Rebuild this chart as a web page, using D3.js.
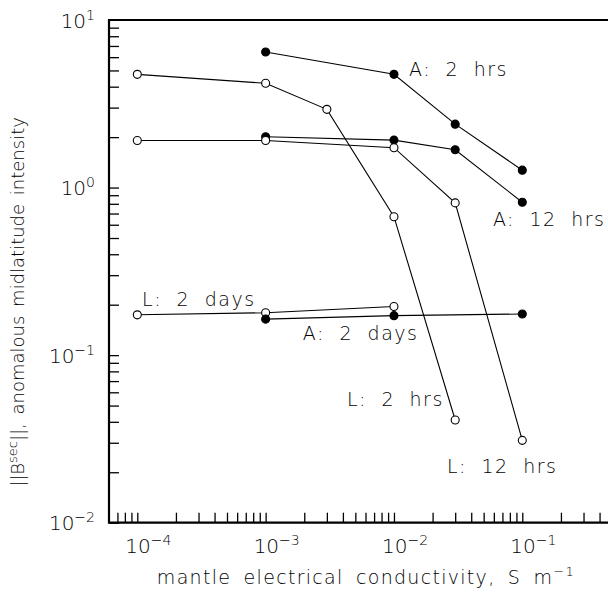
<!DOCTYPE html>
<html>
<head>
<meta charset="utf-8">
<script src="https://cdn.jsdelivr.net/npm/d3@7"></script>
<style>
  body { margin: 0; background: #fff; }
  text { font-family: "DejaVu Sans", sans-serif; font-weight: 200; fill: #000; }
</style>
</head>
<body>
<svg id="chart" width="608" height="593"></svg>
<script>
// conductivity values (S/m) and field intensities
var a2hrsX = [1e-3, 1e-2, 3e-2, 1e-1];
var a2hrsY = [6.44, 4.74, 2.39, 1.27];

var a12hrsX = [1e-3, 1e-2, 3e-2, 1e-1];
var a12hrsY = [2.01, 1.92, 1.68, 0.817];

var l2hrsX = [1e-4, 1e-3, 3e-3, 1e-2, 3e-2];
var l2hrsY = [4.74, 4.19, 2.93, 0.67, 0.041];

var l12hrsX = [1e-4, 1e-3, 1e-2, 3e-2, 1e-1];
var l12hrsY = [1.91, 1.91, 1.73, 0.81, 0.031];

var l2daysX = [1e-4, 1e-3, 1e-2];
var l2daysY = [0.174, 0.179, 0.195];

var a2daysX = [1e-3, 1e-2, 1e-1];
var a2daysY = [0.164, 0.172, 0.176];

var seriesNames = ["A: 2 hrs", "A: 12 hrs", "L: 2 hrs", "L: 12 hrs", "L: 2 days", "A: 2 days"];
var seriesFilled = [true, true, false, false, false, true];

var xTickExp = [-4, -3, -2, -1];
var yTickExp = [-2, -1, 0, 1];

var series = [
    { x: a2hrsX, y: a2hrsY },
    { x: a12hrsX, y: a12hrsY },
    { x: l2hrsX, y: l2hrsY },
    { x: l12hrsX, y: l12hrsY },
    { x: l2daysX, y: l2daysY },
    { x: a2daysX, y: a2daysY }
];

// label anchor positions in data units (left edge, middle of text)
var labelPos = [
    [1.31e-2, 5.10],
    [5.9e-2, 0.649],
    [4.3e-3, 0.0547],
    [2.59e-2, 0.0218],
    [1.09e-4, 0.216],
    [1.95e-3, 0.1355]
];

var svg = d3.select("#chart");

var plotL = 109, plotR = 608, plotT = 20, plotB = 522.7;

var x = d3.scaleLog().domain([1e-4, 1e-1]).range([137.3, 522.3]);
var y = d3.scaleLog().domain([1e-2, 1e1]).range([plotB, plotT]);

// minor + major tick positions inside the visible range
var xTicks = [];
for (var d = -5; d <= 0; d++) {
    for (var k = 1; k <= 9; k++) {
        var v = k * Math.pow(10, d);
        if (x(v) > plotL + 3 && x(v) <= plotR) xTicks.push(v);
    }
}
var yTicks = [];
for (var d = -2; d <= 0; d++) {
    for (var k = 1; k <= 9; k++) yTicks.push(k * Math.pow(10, d));
}

svg.append("g")
    .attr("transform", "translate(0," + plotB + ")")
    .call(d3.axisBottom(x).tickValues(xTicks).tickSize(-10).tickFormat(""))
    .call(function(g) { g.select(".domain").remove(); })
    .selectAll("line").attr("stroke", "#000").attr("stroke-width", 1.3);

svg.append("g")
    .attr("transform", "translate(" + plotL + ",0)")
    .call(d3.axisLeft(y).tickValues(yTicks).tickSize(-10).tickFormat(""))
    .call(function(g) { g.select(".domain").remove(); })
    .selectAll("line").attr("stroke", "#000").attr("stroke-width", 1.3);

// frame: left, top and bottom (no right edge visible)
svg.append("path")
    .attr("d", "M" + plotR + "," + plotT + "H" + plotL + "V" + plotB + "H" + plotR)
    .attr("fill", "none")
    .attr("stroke", "#000")
    .attr("stroke-width", 2.2);

// tick labels 10^n
xTickExp.forEach(function(e) {
    var t = svg.append("text")
        .attr("x", x(Math.pow(10, e)) - 12)
        .attr("y", 553)
        .attr("font-size", 20);
    t.append("tspan").text("10");
    t.append("tspan").attr("font-size", 14).attr("dy", -8).text(e < 0 ? "\u2212" + (-e) : e);
});

yTickExp.forEach(function(e) {
    var t = svg.append("text")
        .attr("x", 95)
        .attr("y", y(Math.pow(10, e)) + 7.5)
        .attr("text-anchor", "end")
        .attr("font-size", 20);
    t.append("tspan").text("10");
    t.append("tspan").attr("font-size", 14).attr("dy", -8).text(e < 0 ? "\u2212" + (-e) : e);
});

// axis titles
var xt = svg.append("text")
    .attr("x", 366)
    .attr("y", 584)
    .attr("text-anchor", "middle")
    .attr("font-size", 19)
    .attr("letter-spacing", 1.3)
    .attr("word-spacing", 5);
xt.append("tspan").text("mantle electrical conductivity, S m");
xt.append("tspan").attr("font-size", 13).attr("dy", -8).text("\u22121");

var yt = svg.append("text")
    .attr("transform", "translate(24,302) rotate(-90)")
    .attr("text-anchor", "middle")
    .attr("font-size", 18)
    .attr("letter-spacing", 0)
    .attr("word-spacing", 3);
yt.append("tspan").text("||B");
yt.append("tspan").attr("font-size", 13).attr("dy", -7).text("sec");
yt.append("tspan").attr("dy", 7).text("||, anomalous midlatitude intensity");

// series lines and markers
var line = d3.line()
    .x(function(p) { return x(p[0]); })
    .y(function(p) { return y(p[1]); });

series.forEach(function(s, i) {
    var pts = d3.zip(s.x, s.y);
    svg.append("path")
        .attr("d", line(pts))
        .attr("fill", "none")
        .attr("stroke", "#000")
        .attr("stroke-width", 1.1);
});

series.forEach(function(s, i) {
    var pts = d3.zip(s.x, s.y);
    svg.selectAll(null)
        .data(pts)
        .enter().append("circle")
        .attr("cx", function(p) { return x(p[0]); })
        .attr("cy", function(p) { return y(p[1]); })
        .attr("r", 4)
        .attr("fill", seriesFilled[i] ? "#000" : "#fff")
        .attr("stroke", "#000")
        .attr("stroke-width", 1.1);
});

// series labels
seriesNames.forEach(function(name, i) {
    svg.append("text")
        .attr("x", x(labelPos[i][0]))
        .attr("y", y(labelPos[i][1]) + 7)
        .attr("font-size", 19)
        .attr("letter-spacing", 1.5)
        .attr("word-spacing", 7)
        .text(name);
});
</script>
</body>
</html>
